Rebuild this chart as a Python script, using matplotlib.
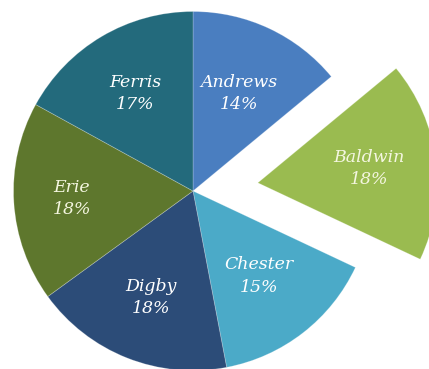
import matplotlib
matplotlib.use("Agg")
import matplotlib.pyplot as plt
import numpy as np

# Share of the total by company
names = ["Andrews", "Baldwin", "Chester", "Digby", "Erie", "Ferris"]
shares = [14, 18, 15, 18, 18, 17]
colors = ["#4A7EC0", "#9ABB50", "#4BAAC8", "#2C4C78", "#5E772D", "#236A7C"]
text_colors = ["white", "#F4F6E0", "white", "white", "#F4F6E0", "white"]
explode = [0, 0.364, 0, 0, 0, 0]
label_radius = [0.6, 0.625, 0.6, 0.64, 0.675, 0.63]

R = 179.5  # pie radius in pixels
fig = plt.figure(figsize=(4.29, 3.69), dpi=100)
ax = fig.add_axes([0, 0, 1, 1])

wedges, texts = ax.pie(
    shares,
    colors=colors,
    explode=explode,
    startangle=90,
    counterclock=False,
    radius=1.0,
    wedgeprops=dict(linewidth=0.6, edgecolor=(1, 1, 1, 0.25)),
)

for w, name, val, r, tc in zip(wedges, names, shares, label_radius, text_colors):
    mid = np.deg2rad((w.theta1 + w.theta2) / 2)
    cx, cy = w.center
    ax.text(cx + r * np.cos(mid), cy + r * np.sin(mid), f"{name}\n{val}%",
            ha="center", va="center", color=tc, fontsize=12.5,
            family="DejaVu Serif", style="italic", linespacing=1.4)

ax.set_xlim(-193 / R, (429 - 193) / R)
ax.set_ylim(-(369 - 191) / R, 191 / R)
ax.set_aspect("auto")
ax.axis("off")

fig.savefig("out.png", dpi=100)
